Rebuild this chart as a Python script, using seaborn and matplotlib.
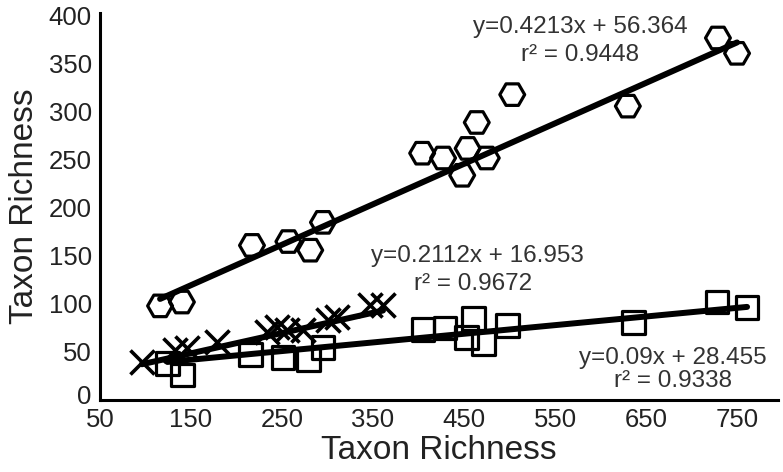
import numpy as np
import pandas as pd
import matplotlib
matplotlib.use("Agg")
import matplotlib.pyplot as plt
import matplotlib.transforms as mtrans
import seaborn as sns

# hexagon series
hex_x = [116, 140, 217, 257, 281, 295, 404, 427, 448, 454, 464, 475, 503, 630, 729, 750]
hex_y = [98, 102, 161, 165, 156, 185, 257, 252, 234, 262, 289, 252, 318, 306, 377, 361]

# cross series
cross_x = [96, 132, 146, 179, 234, 245, 256, 273, 301, 310, 347, 361]
cross_y = [40, 52, 54, 60, 71, 76, 73, 73, 83, 86, 99, 99]

# square series
sq_x = [124, 141, 215, 251, 279, 295, 405, 429, 453, 460, 471, 498, 636, 728, 761]
sq_y = [38, 26, 47, 44, 42, 55, 73, 75, 65, 85, 59, 78, 81, 102, 96]

# regression equations shown on the chart
fits = {
    "hex": (0.4213, 56.364, "0.9448"),
    "cross": (0.2112, 16.953, "0.9672"),
    "sq": (0.09, 28.455, "0.9338"),
}

xticks = [50, 150, 250, 350, 450, 550, 650, 750]
yticks = [0, 50, 100, 150, 200, 250, 300, 350, 400]

sns.set_style("white")
plt.rcParams["font.family"] = ["Liberation Sans", "DejaVu Sans"]
txt = "#222222"

fig = plt.figure(figsize=(7.83, 4.72), dpi=100)
ax = fig.add_axes([100 / 783, 1 - 400 / 472, 678 / 783, 387 / 472])

series = [
    ("hex", hex_x, hex_y, "H", 320),
    ("cross", cross_x, cross_y, "x", 300),
    ("sq", sq_x, sq_y, "s", 270),
]

for name, xs, ys, mk, size in series:
    df = pd.DataFrame({"x": xs, "y": ys})
    if mk == "x":
        sns.scatterplot(data=df, x="x", y="y", ax=ax, marker=mk, s=size,
                        color="black", linewidth=2.6, zorder=3)
    else:
        sns.scatterplot(data=df, x="x", y="y", ax=ax, marker=mk, s=size,
                        facecolor="none", edgecolor="black", linewidth=2.3, zorder=3)
    m, b, r2 = fits[name]
    lx = np.array([min(xs), max(xs)])
    line = pd.DataFrame({"x": lx, "y": m * lx + b})
    sns.lineplot(data=line, x="x", y="y", ax=ax, color="black", linewidth=4.3, zorder=4)

ax.set_xlim(50, 795)
ax.set_ylim(0, 403)
ax.set_xticks(xticks)
ax.set_yticks(yticks)
ax.tick_params(length=0, labelsize=18.5, labelcolor=txt)
ax.tick_params(axis="x", pad=6)
ax.tick_params(axis="y", pad=6)
for s in ["top", "right"]:
    ax.spines[s].set_visible(False)
for s in ["left", "bottom"]:
    ax.spines[s].set_linewidth(2.2)
    ax.spines[s].set_color("black")

# lift the "0" label a little so it clears the "50" below it
zero_lab = ax.get_yticklabels()[0]
zero_lab.set_transform(zero_lab.get_transform() +
                       mtrans.ScaledTranslation(0, 4 / 72, fig.dpi_scale_trans))

ax.set_xlabel("Taxon Richness", fontsize=24, color=txt, labelpad=2)
ax.set_ylabel("Taxon Richness", fontsize=24, color=txt, labelpad=6)

# equation labels
def put(px, py, s):
    fig.text(px / 783, 1 - py / 472, s, ha="center", va="center",
             fontsize=17.5, color="#333333")

put(580, 27, "y=0.4213x + 56.364")
put(580, 55, "r² = " + fits["hex"][2])
put(477, 256, "y=0.2112x + 16.953")
put(473, 284, "r² = " + fits["cross"][2])
put(673, 358, "y=0.09x + 28.455")
put(673, 381, "r² = " + fits["sq"][2])

fig.savefig("out.png", dpi=100)
